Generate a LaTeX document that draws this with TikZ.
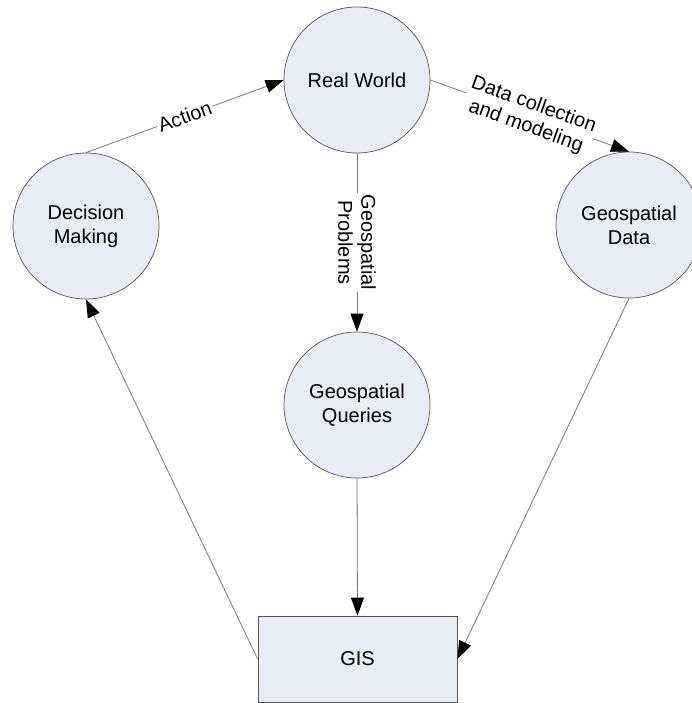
\documentclass[tikz,border=0pt]{standalone}
\usepackage{fontspec}
\setmainfont{Liberation Sans}
\usetikzlibrary{arrows.meta}
\definecolor{nodefill}{HTML}{E8ECF5}
\definecolor{nodeline}{HTML}{555555}
\definecolor{edgeline}{HTML}{7A7A7A}
\begin{document}
\begin{tikzpicture}[x=1pt,y=-1pt,
  bubble/.style={circle, draw=nodeline, fill=nodefill, line width=0.7pt, minimum size=146pt, inner sep=0pt, align=center, font=\fontsize{20}{24}\selectfont},
  boxnode/.style={rectangle, draw=nodeline, fill=nodefill, line width=0.8pt, minimum width=199pt, minimum height=86pt, inner sep=0pt, font=\fontsize{20}{24}\selectfont},
  conn/.style={draw=edgeline, line width=0.8pt, -{Triangle[length=18pt,width=13pt,color=black]}},
  elabel/.style={fill=white, inner sep=1.5pt, align=center, font=\fontsize{20}{23}\selectfont}
]
\useasboundingbox (0,0) rectangle (692,703);
\node[bubble] (rw) at (357,80) {Real World};
\node[bubble] (dm) at (86,226) {Decision\\Making};
\node[bubble] (gd) at (629,225) {Geospatial\\Data};
\node[bubble] (gq) at (357,405) {Geospatial\\Queries};
\node[boxnode] (gis) at (357.5,659) {GIS};
\draw[conn] (dm.north) -- node[elabel, sloped] {Action} (rw.west);
\draw[conn] (rw.east) -- node[elabel, sloped] {Data collection\\and modeling} (gd.north);
\draw[conn] (rw.south) -- node[elabel, rotate=-90] {Geospatial\\Problems} (gq.north);
\draw[conn] (gq.south) -- (gis.north);
\draw[conn] (gis.west) -- (dm.south);
\draw[conn] (gd.south) -- (gis.east);
\end{tikzpicture}
\end{document}
